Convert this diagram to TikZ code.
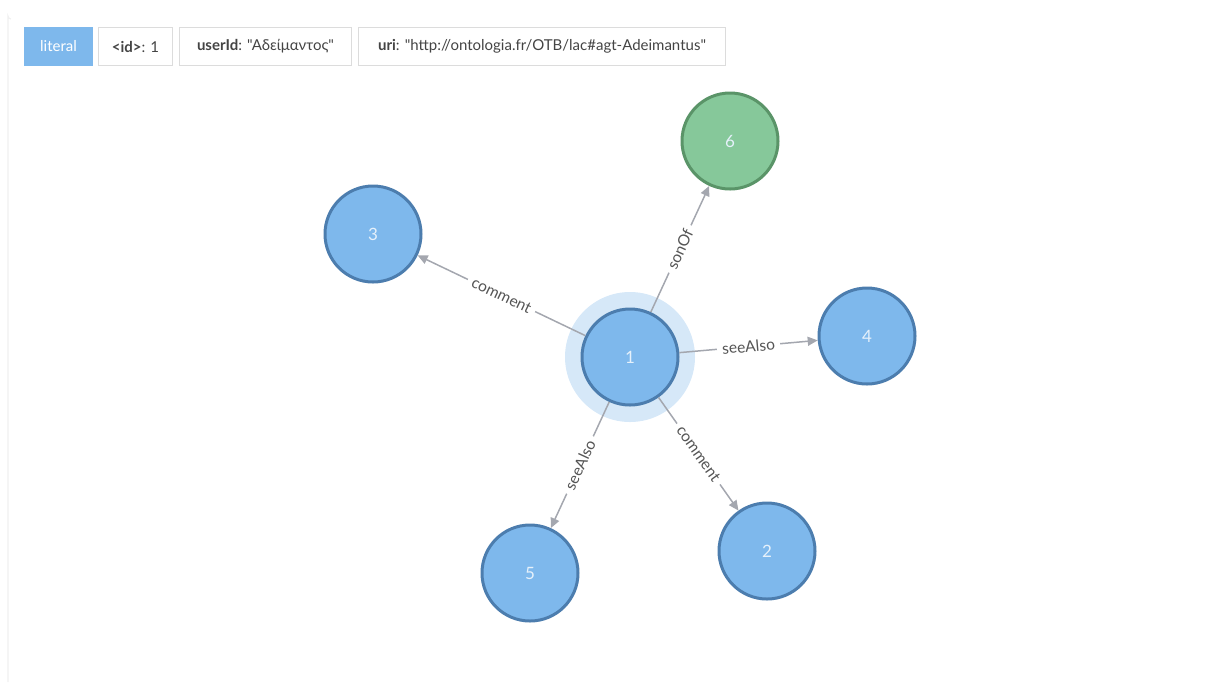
\documentclass[tikz,border=0pt]{standalone}
\usepackage{fontspec}
\setmainfont{Lato}[Ligatures=TeXOff]
\usetikzlibrary{positioning,arrows.meta}

\definecolor{nodeblue}{HTML}{7EB8EC}
\definecolor{blueline}{HTML}{4C7DAE}
\definecolor{halo}{HTML}{D6E8F8}
\definecolor{nodegreen}{HTML}{86C89A}
\definecolor{greenline}{HTML}{5A9468}
\definecolor{nodetext}{HTML}{E6F1FB}
\definecolor{edgegray}{HTML}{A4A7AF}
\definecolor{labelgray}{HTML}{555555}
\definecolor{tagline}{HTML}{DCDCDC}
\definecolor{tagtext}{HTML}{444444}

\begin{document}
\begin{tikzpicture}[
    x=0.5pt, y=-0.5pt,
    node distance=3pt,
    tag/.style={
        rectangle,
        draw=tagline,
        fill=white,
        line width=0.5pt,
        minimum height=19pt,
        inner xsep=2pt,
        text=tagtext,
        font=\fontsize{7.5}{9}\selectfont
    },
    entity/.style={
        circle,
        draw=blueline,
        fill=nodeblue,
        line width=1.5pt,
        minimum size=48pt,
        text=nodetext,
        font=\fontsize{8.5}{10}\selectfont
    },
    son/.style={entity, draw=greenline, fill=nodegreen},
    link/.style={-{Triangle[length=5pt,width=4.5pt]}, draw=edgegray, line width=0.75pt},
    rel/.style={
        midway,
        sloped,
        fill=white,
        inner sep=2.5pt,
        text=labelgray,
        font=\fontsize{7.8}{9}\selectfont
    }
]
\useasboundingbox (0,0) rectangle (1231,682);
\draw[gray!12, line width=0.6pt] (8,682) -- (8,16) arc (180:90:3);

% property bar
\node[tag, draw=nodeblue, fill=nodeblue, text=white, minimum width=34pt, anchor=north west] (lit) at (24,27) {literal};
\node[tag, minimum width=37pt] (tid) [right=2.5pt of lit] {\textbf{<id>}: 1};
\node[tag, minimum width=86pt] (tuser) [right=of tid] {\textbf{userId}: "Αδείμαντος"};
\node[tag, minimum width=183.5pt] (turi) [right=of tuser] {\textbf{uri}: "http://ontologia.fr/OTB/lac\#agt-Adeimantus"};

% graph
\node[circle, fill=halo, minimum size=65pt] (h1) at (630,357) {};
\node[entity] (n1) at (630,357) {1};
\node[son] (n6) at (730,141) {6};
\node[entity] (n3) at (373,234) {3};
\node[entity] (n4) at (867,336) {4};
\node[entity] (n5) at (530,573) {5};
\node[entity] (n2) at (767,551) {2};

\draw[link] (n1) -- node[rel] {comment} (n3);
\draw[link] (n1) -- node[rel] {sonOf} (n6);
\draw[link] (n1) -- node[rel] {seeAlso} (n4);
\draw[link] (n1) -- node[rel] {seeAlso} (n5);
\draw[link] (n1) -- node[rel] {comment} (n2);

\end{tikzpicture}
\end{document}
